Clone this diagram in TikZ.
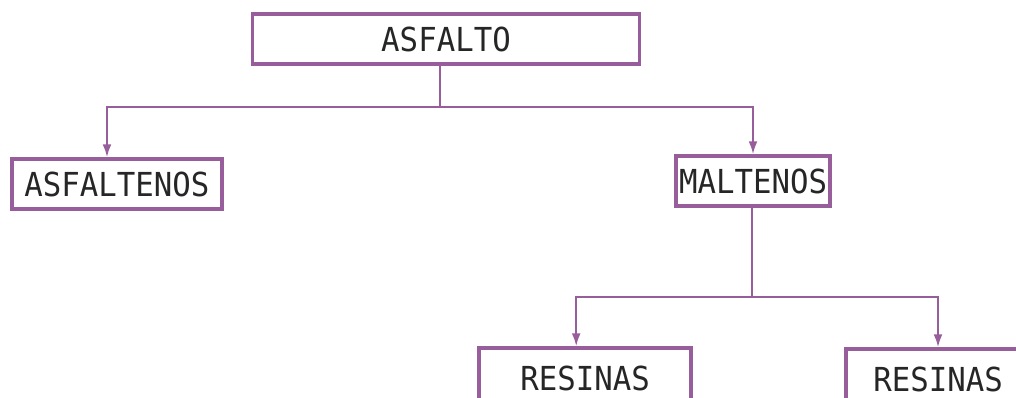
\documentclass[tikz,border=0pt]{standalone}
\usepackage{fontspec}
\setmonofont{DejaVu Sans Mono}
\usetikzlibrary{arrows.meta,positioning}

\definecolor{lila}{RGB}{152,94,156}
\newcommand{\cadtext}[1]{\scalebox{0.93}[1]{\ttfamily\fontsize{23.5pt}{28pt}\selectfont #1}}

\tikzset{
  caja/.style={draw=lila, line width=2.6pt, fill=white, inner sep=0pt,
    minimum height=1.25cm, text=black!85},
  linea/.style={draw=lila, line width=1.3pt},
  flecha/.style={linea, -{Latex[length=0.32cm,width=0.22cm]}}
}

\begin{document}
\begin{tikzpicture}[x=0.025cm,y=-0.025cm]
	\useasboundingbox (0,0) rectangle (1016,398);
	\clip (0,0) rectangle (1016,398);

	% Boxes
	\node[caja, minimum width=9.68cm] (asfalto) at (446,39) {\cadtext{ASFALTO}};
	\node[caja, minimum width=5.25cm] (asfaltenos) at (117,184) {\cadtext{ASFALTENOS}};
	\node[caja, minimum width=3.85cm] (maltenos) at (753,181) {\cadtext{MALTENOS}};
	% bottom row runs past the lower edge
	\node[caja, minimum width=5.3cm, minimum height=1.5cm] (resinasA) at (585,378) {\cadtext{RESINAS}};
	\node[caja, minimum width=4.6cm, minimum height=1.5cm] (resinasB) at (938,379) {\cadtext{RESINAS}};

	% First split
	\coordinate (j1) at (440,107);
	\draw[linea] (asfalto.south -| j1) -- (j1);
	\draw[flecha] (j1) -| ([xshift=-0.25cm]asfaltenos.north);
	\draw[flecha] (j1) -| (maltenos.north);

	% Second split
	\coordinate (j2) at (752,297);
	\draw[linea] (maltenos.south -| j2) -- (j2);
	\draw[flecha] (j2) -| ([xshift=-0.22cm]resinasA.north);
	\draw[flecha] (j2) -| (resinasB.north);
\end{tikzpicture}
\end{document}
